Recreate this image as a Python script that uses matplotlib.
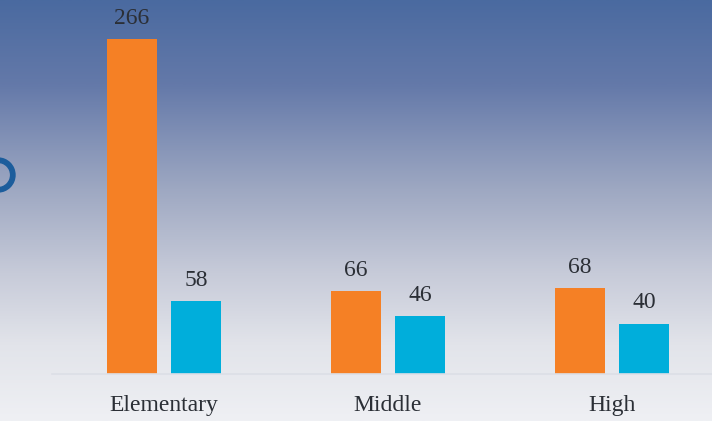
import numpy as np
import matplotlib
matplotlib.use("Agg")
import matplotlib.pyplot as plt
from matplotlib.colors import LinearSegmentedColormap
from matplotlib.patches import Wedge

categories = ["Elementary", "Middle", "High"]
series_a = [266, 66, 68]
series_b = [58, 46, 40]

ORANGE = "#F58025"
CYAN = "#00AEDB"
TEXT = "#2b2f36"

plt.rcParams["font.family"] = ["Liberation Serif", "DejaVu Serif"]

W, H = 712, 421
fig = plt.figure(figsize=(W / 100, H / 100), dpi=100)

# vertical background gradient
bg = fig.add_axes([0, 0, 1, 1], zorder=0)
bg.set_axis_off()
stops = [
    (0.00, "#4a6aa0"),
    (0.20, "#6479a9"),
    (0.45, "#9ea8c2"),
    (0.65, "#c7cbd9"),
    (0.82, "#e2e4ea"),
    (1.00, "#eff0f4"),
]
cmap = LinearSegmentedColormap.from_list("bg", stops)
grad = np.linspace(0, 1, 512).reshape(-1, 1)
bg.imshow(grad, aspect="auto", cmap=cmap, extent=[0, W, H, 0])
bg.set_xlim(0, W)
bg.set_ylim(H, 0)
# ring decoration on the left edge
bg.add_patch(Wedge((-2, 175), 17, 0, 360, width=4.4, color="#1c5d9c"))

# chart axes
left_px, base_px = 52, 374
px_per_unit = 335 / 266
ax = fig.add_axes([left_px / W, (H - base_px) / H, (W - left_px) / W, base_px / H], zorder=1)
ax.patch.set_alpha(0)
group_px = 224
ax.set_xlim(-0.5, (W - left_px) / group_px - 0.5)
ax.set_ylim(0, base_px / px_per_unit)

x = np.arange(len(categories))
bw = 50 / group_px
off = 32 / group_px
bars_a = ax.bar(x - off, series_a, width=bw, color=ORANGE)
bars_b = ax.bar(x + off, series_b, width=bw, color=CYAN)

for bars, vals in ((bars_a, series_a), (bars_b, series_b)):
    for b, v in zip(bars, vals):
        ax.annotate(str(v), (b.get_x() + b.get_width() / 2, v),
                    xytext=(0, 11), textcoords="offset points",
                    ha="center", va="baseline", fontsize=17, color=TEXT)

for s in ("top", "right", "left"):
    ax.spines[s].set_visible(False)
ax.spines["bottom"].set_color("#dcdfe6")
ax.spines["bottom"].set_linewidth(1.2)
ax.set_yticks([])
ax.set_xticks(x, categories)
ax.tick_params(axis="x", length=0, pad=15, labelsize=17, labelcolor=TEXT)

fig.savefig("out.png", dpi=100)
